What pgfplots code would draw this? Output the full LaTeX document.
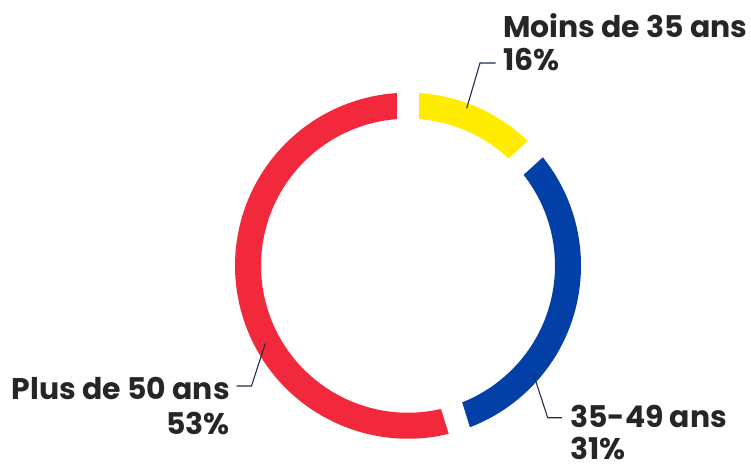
\documentclass[border=0pt]{standalone}
\usepackage{pgfplots}
\pgfplotsset{compat=1.18}
\usepackage{pgfplotstable}
\usepackage{fontspec}
\setmainfont{Poppins}[BoldFont={* Bold}]
\definecolor{cyel}{HTML}{FFEC00}
\definecolor{cblu}{HTML}{023FA6}
\definecolor{cred}{HTML}{F2283C}
\definecolor{cline}{HTML}{1F2D55}
\definecolor{ctxt}{HTML}{262626}
% slices: share (%), and arc start / end angle (degrees, counter-clockwise from east)
\pgfplotstableread{
name pct a1 a2 col
young 16 90 42.5 cyel
mid 31 42.5 -72.7 cblu
old 53 -72.7 -270 cred
}\slices
\begin{document}
\begin{tikzpicture}
\begin{axis}[
  x=1bp, y=1bp, y dir=reverse,
  xmin=0, xmax=751, ymin=0, ymax=466,
  hide axis, clip=false,
]
\pgfplotsforeachungrouped \i in {0,1,2}{%
  \pgfplotstablegetelem{\i}{a1}\of\slices \let\aA\pgfplotsretval
  \pgfplotstablegetelem{\i}{a2}\of\slices \let\aB\pgfplotsretval
  \pgfplotstablegetelem{\i}{col}\of\slices \let\cc\pgfplotsretval
  \edef\cmd{\noexpand\draw[line width=26bp, color=\cc] ([shift={(\aA:160bp)}]axis cs:408,265.7) arc[start angle=\aA, end angle=\aB, radius=160bp];}%
  \cmd
}
\pgfplotsforeachungrouped \i in {0,1,2}{%
  \pgfplotstablegetelem{\i}{a1}\of\slices \let\aA\pgfplotsretval
  \edef\cmd{\noexpand\draw[line width=22bp, white] (axis cs:408,265.7) -- ([shift={(\aA:190bp)}]axis cs:408,265.7);}%
  \cmd
}
% leader lines
\draw[cline, line width=1.1bp] (axis cs:466.7,108.3) -- (axis cs:480,63) -- (axis cs:495.7,63);
\draw[cline, line width=1.1bp] (axis cs:265.3,343.5) -- (axis cs:251.5,386) -- (axis cs:236.5,386);
\draw[cline, line width=1.1bp] (axis cs:533.3,373.5) -- (axis cs:547.7,417.7) -- (axis cs:562,417.7);
% labels
\begin{scope}[every node/.style={inner sep=0pt, text=ctxt, font=\fontsize{30}{34}\selectfont\bfseries}]
\node[anchor=base west] at (axis cs:503,37.3) {Moins de 35 ans};
\node[anchor=base west] at (axis cs:503,70) {16\%};
\node[anchor=base east] at (axis cs:230,399.3) {Plus de 50 ans};
\node[anchor=base east] at (axis cs:230,434) {53\%};
\node[anchor=base west] at (axis cs:570,427) {35-49 ans};
\node[anchor=base west] at (axis cs:570,459.5) {31\%};
\end{scope}
\end{axis}
\pgfresetboundingbox
\path[use as bounding box] (0,0) rectangle (751bp,466bp);
\end{tikzpicture}
\end{document}
